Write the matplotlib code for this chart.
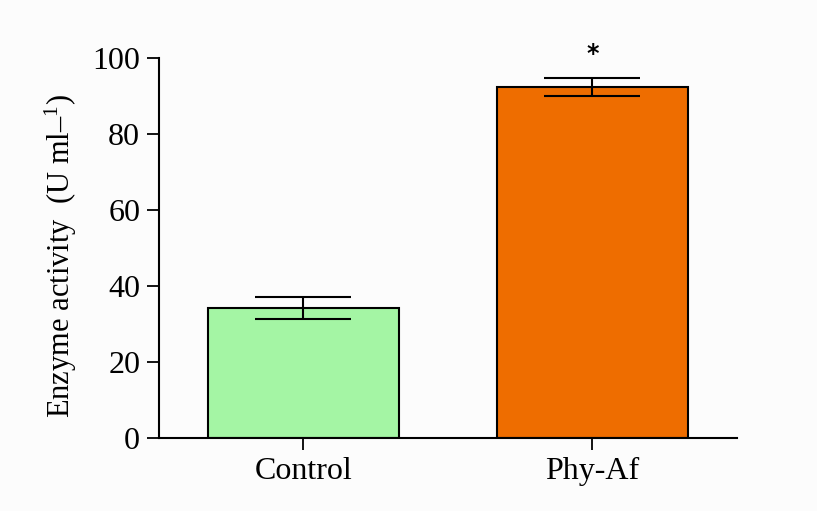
import matplotlib.pyplot as plt

groups = ['Control', 'Phy-Af']
activity = [34.2, 92.4]
errors = [2.8, 2.4]
bar_colors = ['#a4f5a4', '#ee6d00']
yticks = [0, 20, 40, 60, 80, 100]


def main():
    plt.rcParams['font.family'] = ['Liberation Serif', 'DejaVu Serif']
    plt.rcParams['mathtext.fontset'] = 'custom'
    plt.rcParams['mathtext.rm'] = 'Liberation Serif'
    plt.rcParams['mathtext.default'] = 'regular'

    fig = plt.figure(figsize=(8.17, 5.11), dpi=100, facecolor='#fcfcfc')
    ax = fig.add_axes([0.1946, 0.1429, 0.7074, 0.7436])
    ax.set_facecolor('#fcfcfc')

    x = range(len(groups))
    ax.bar(x, activity, width=0.66, color=bar_colors, edgecolor='black',
           linewidth=1.5, zorder=2)
    ax.errorbar(x, activity, yerr=errors, fmt='none', ecolor='black',
                elinewidth=1.5, capsize=34.5, capthick=1.5, zorder=3)

    # significance mark
    ax.text(1, activity[1] + errors[1] + 3.0, '*', ha='center', va='bottom',
            fontsize=17, fontweight='bold', family='DejaVu Sans')

    ax.set_xlim(-0.5, 1.5)
    ax.set_ylim(0, 100)
    ax.set_xticks(list(x))
    ax.set_xticklabels(groups)
    ax.set_yticks(yticks)

    for s in ['top', 'right']:
        ax.spines[s].set_visible(False)
    for s in ['left', 'bottom']:
        ax.spines[s].set_linewidth(1.5)

    ax.tick_params(axis='both', direction='out', length=8.5, width=1.3,
                   labelsize=23, pad=5)
    ax.set_ylabel('Enzyme activity  (U ml–$^{1}$)', fontsize=22)
    ax.yaxis.set_label_coords(-0.138, 0.479)

    plt.savefig('out.png', dpi=100, facecolor=fig.get_facecolor())


if __name__ == "__main__":
    main()
